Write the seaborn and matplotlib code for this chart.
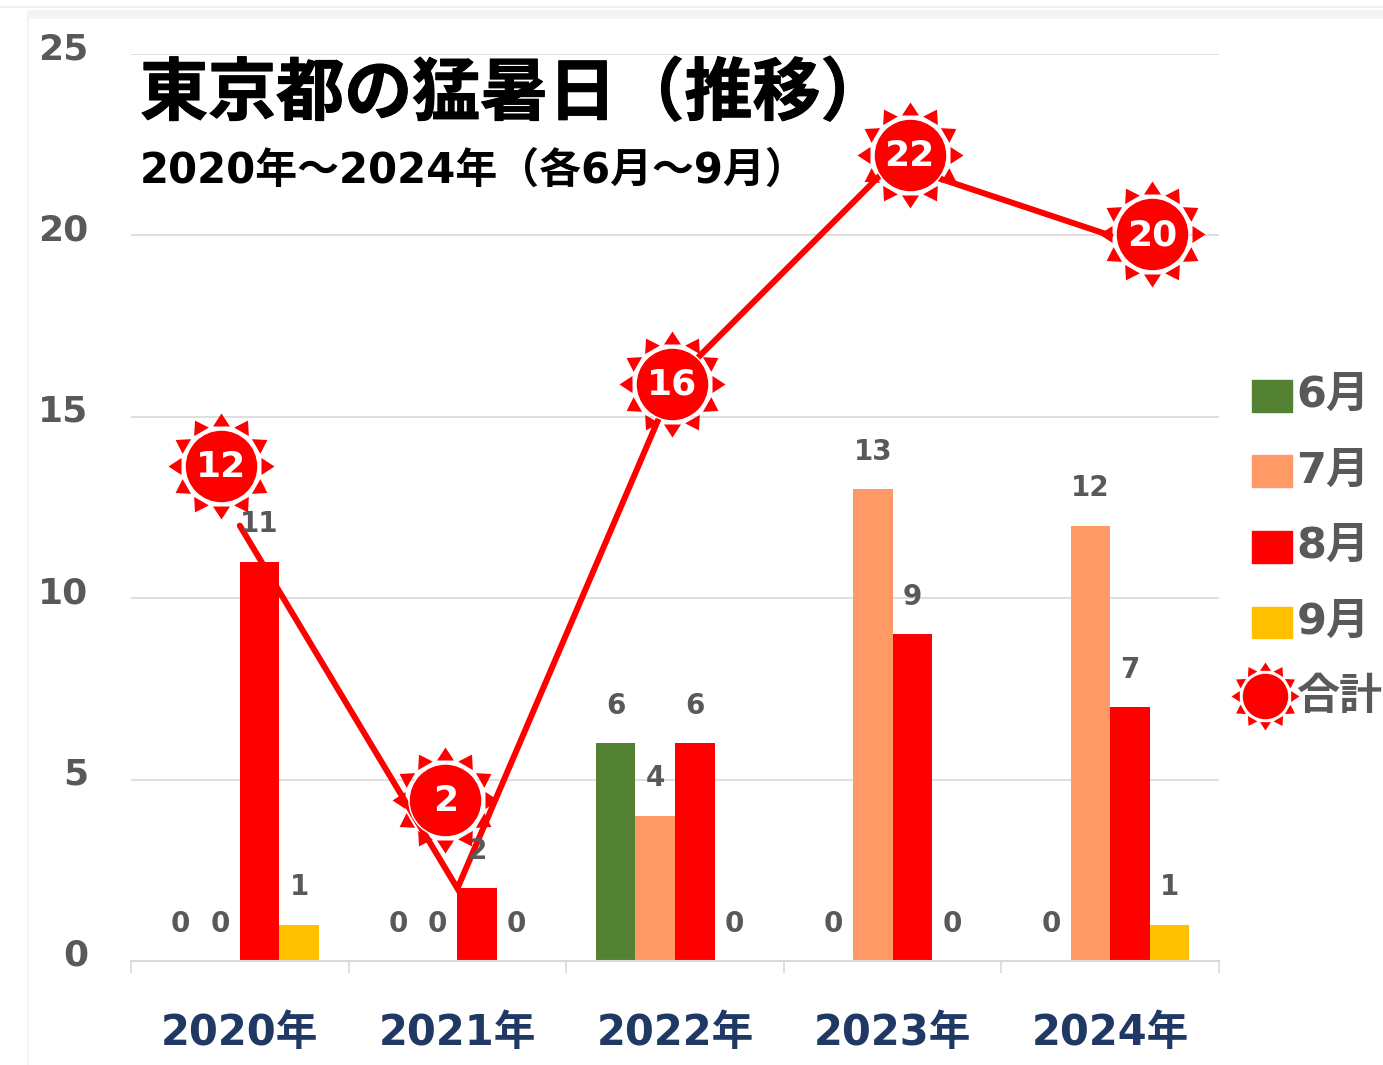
import matplotlib
matplotlib.use("Agg")
import matplotlib.patheffects as pe
import matplotlib.pyplot as plt
import numpy as np
import pandas as pd
import seaborn as sns
from matplotlib.legend_handler import HandlerPatch, HandlerTuple
from matplotlib.lines import Line2D
from matplotlib.patches import Patch, Rectangle
from matplotlib.path import Path
from matplotlib.transforms import ScaledTranslation, offset_copy

# data
years = ["2020年", "2021年", "2022年", "2023年", "2024年"]
months = ["6月", "7月", "8月", "9月"]
june = [0, 0, 6, 0, 0]
july = [0, 0, 4, 13, 12]
august = [11, 2, 6, 9, 7]
september = [1, 0, 0, 0, 1]
totals = [12, 2, 16, 22, 20]
yticks = [0, 5, 10, 15, 20, 25]

# the sun icons do not sit on their points in the original (pixels)
sun_shift = [(-19, 60), (-12, 88), (-3, -3), (17, 8), (42, 1)]

month_colors = ["#548235", "#FF9966", "#FF0000", "#FFC000"]
gray = "#595959"
navy = "#203864"
gridcolor = "#D9D9D9"

W, H = 1383, 1065
dpi = 100
px = 72 / dpi  # points per pixel

sns.set_theme(style="white")
plt.rcParams["font.family"] = ["DejaVu Sans", "Noto Sans CJK JP"]
plt.rcParams["font.weight"] = "bold"

df = pd.DataFrame({"year": years, months[0]: june, months[1]: july,
                   months[2]: august, months[3]: september})
df = df.melt(id_vars="year", var_name="month", value_name="days")

fig = plt.figure(figsize=(W / dpi, H / dpi), dpi=dpi, facecolor="white")
ax = fig.add_axes([131 / W, 1 - 961 / H, (1219 - 131) / W, (961 - 54) / H])
ax.set_facecolor("none")

# page card behind the chart
fig.add_artist(Rectangle((0, 1 - 8 / H), 1, 2 / H, transform=fig.transFigure, color="#EFEFEF", lw=0))
fig.add_artist(Rectangle((28 / W, 1 - 19 / H), 1, 9 / H, transform=fig.transFigure, color="#F4F4F4", lw=0))
fig.add_artist(Rectangle((27 / W, 0), 2 / W, 1 - 10 / H, transform=fig.transFigure, color="#F3F3F3", lw=0))

sns.barplot(data=df, x="year", y="days", hue="month", palette=month_colors,
            width=0.727, gap=0, saturation=1, legend=False, ax=ax, zorder=2,
            linewidth=0, edgecolor="none")

ax.set_xlim(-0.5, 4.5)
ax.set_ylim(0, 25)
ax.set_xlabel("")
ax.set_ylabel("")
sns.despine(ax=ax, left=True)
ax.spines["bottom"].set_color(gridcolor)
ax.spines["bottom"].set_linewidth(1.5)
ax.set_axisbelow(True)
ax.yaxis.grid(True, color=gridcolor, lw=1.2)
ax.xaxis.grid(False)

ax.set_yticks(yticks)
ax.set_yticklabels([])
ax.tick_params(axis="y", length=0)
for y in yticks:
    ax.annotate(str(y), (0, y), xycoords=ax.get_yaxis_transform(), xytext=(-43 * px, 5 * px),
                textcoords="offset points", ha="right", va="center", fontsize=26, color=gray)

ax.set_xticks(np.arange(len(years)))
ax.set_xticklabels(years, fontsize=30, color=navy)
ax.tick_params(axis="x", which="major", length=0, pad=36.5)
ax.set_xticks(np.arange(len(years) + 1) - 0.5, minor=True)
ax.tick_params(axis="x", which="minor", length=12 * px, width=1.2, color=gridcolor, bottom=True)

# value labels over every bar, also the empty ones
for bars in ax.containers:
    for bar in bars:
        ax.annotate("%d" % bar.get_height(), (bar.get_x() + bar.get_width() / 2, bar.get_height()),
                    xytext=(0, 37.5 * px), textcoords="offset points", ha="center", va="center",
                    fontsize=20, color=gray, zorder=6)

# total line
sns.lineplot(x=np.arange(len(years)), y=totals, color="#FF0000", lw=6 * px, sort=False,
             solid_joinstyle="miter", ax=ax, zorder=4)


def sun_spikes(n=12, r0=40, r1=53, half=8.5):
    verts = []
    codes = []
    for a in np.radians(np.arange(n) * 360 / n):
        c, s = np.cos(a), np.sin(a)
        verts += [(r1 * c, r1 * s), (r0 * c - half * s, r0 * s + half * c),
                  (r0 * c + half * s, r0 * s - half * c), (r1 * c, r1 * s)]
        codes += [Path.MOVETO, Path.LINETO, Path.LINETO, Path.CLOSEPOLY]
    return Path(verts, codes)


spikes = sun_spikes()
spike_style = dict(marker=spikes, markersize=106 * px, color="#FF0000", mew=0, ls="none")
disc_style = dict(marker="o", markersize=73 * px, mfc="#FF0000", mec="white", mew=1.5 * px, ls="none")

for i, (total, shift) in enumerate(zip(totals, sun_shift)):
    tr = offset_copy(ax.transData, fig=fig, x=shift[0], y=shift[1], units="dots")
    ax.plot([i], [total], transform=tr, zorder=7, clip_on=False, **spike_style)
    ax.plot([i], [total], transform=tr, zorder=8, clip_on=False, **disc_style)
    ax.text(i, total, str(total), transform=tr + ScaledTranslation(0, -1 / dpi, fig.dpi_scale_trans),
            ha="center", va="center", fontsize=26, color="white", zorder=9)

# titles
heavy = [pe.withStroke(linewidth=0.8, foreground="black")]
fig.text(140 / W, 1 - 95 / H, "東京都の猛暑日（推移）", fontsize=49, color="black",
         family="Noto Sans CJK JP", weight="bold", ha="left", va="center", path_effects=heavy)
fig.text(140 / W, 1 - 171 / H, "2020年〜2024年（各6月〜9月）", fontsize=30.2, color="black",
         ha="left", va="center")

# legend
handles = [Patch(color=c) for c in month_colors]
legend_spikes = Line2D([], [], marker=spikes, markersize=68 * px, color="#FF0000", mew=0, ls="none")
legend_disc = Line2D([], [], marker="o", markersize=47 * px, mfc="#FF0000", mec="white", mew=1.5 * px, ls="none")
handles.append((legend_spikes, legend_disc))
leg = fig.legend(handles, months + ["合計"], loc="upper left",
                 bbox_to_anchor=(1252 / W, 1 - 374 / H), frameon=False,
                 fontsize=31, labelcolor=gray, handlelength=0.93, handleheight=0.47,
                 handletextpad=0.1, labelspacing=0.78, borderpad=0, borderaxespad=0,
                 handler_map={Patch: HandlerPatch(ypad=-0.19),
                              tuple: HandlerTuple(ndivide=1, pad=0, xpad=-0.33, ypad=-0.05)})

fig.savefig("out.png", dpi=dpi)
